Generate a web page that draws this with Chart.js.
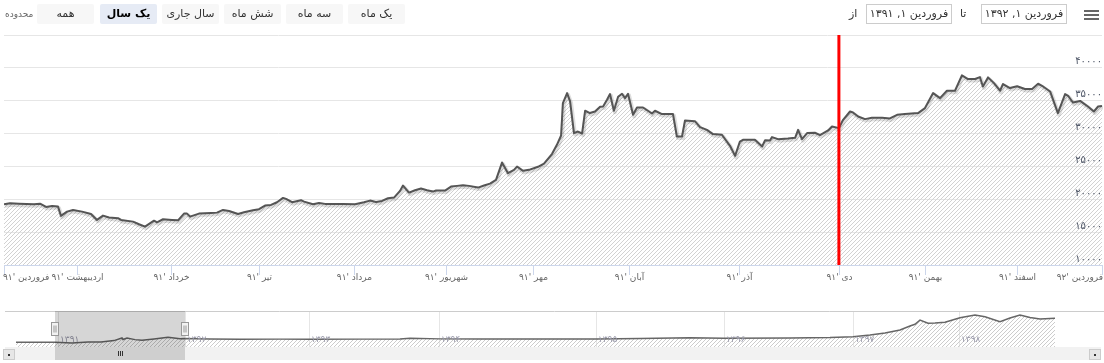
<!DOCTYPE html>
<html><head><meta charset="utf-8">
<script src="https://cdn.jsdelivr.net/npm/chart.js@4.4.1/dist/chart.umd.min.js"></script>
<style>
body{margin:0;width:1104px;height:363px;overflow:hidden;background:#fff;font-family:"DejaVu Sans",sans-serif;position:relative}
canvas{position:absolute;left:0}
#main{top:0}
#nav{top:305px}
.t{position:absolute;white-space:nowrap;z-index:2}
.btn{position:absolute;top:4px;height:20px;width:57px;background:#f7f7f7;border-radius:2px;font-size:11px;color:#333;text-align:center;line-height:20px;z-index:2}
.sel{background:#e6ebf5;font-weight:bold;color:#000}
.box{position:absolute;top:4px;height:18px;width:84px;border:1px solid #ccc;background:#fff;font-size:11px;color:#333;text-align:center;line-height:18px;z-index:2}
.bar{position:absolute;left:1084px;width:15px;height:2px;background:#666;z-index:2}
</style></head>
<body>
<canvas id="main" width="1104" height="300"></canvas>
<canvas id="nav" width="1104" height="58"></canvas>
<div class="t" style="left:5px;top:9px;font-size:9px;color:#666">محدوده</div>
<div class="btn" style="left:37px">همه</div>
<div class="btn sel" style="left:100px">یک سال</div>
<div class="btn" style="left:162px">سال جاری</div>
<div class="btn" style="left:224px">شش ماه</div>
<div class="btn" style="left:286px">سه ماه</div>
<div class="btn" style="left:348px">یک ماه</div>
<div class="t" style="left:849px;top:7px;font-size:11px;color:#333">از</div>
<div class="box" style="left:866px">فروردین ۱, ۱۳۹۱</div>
<div class="t" style="left:960px;top:7px;font-size:11px;color:#333">تا</div>
<div class="box" style="left:981px">فروردین ۱, ۱۳۹۲</div>
<div class="bar" style="top:10px"></div>
<div class="bar" style="top:14px"></div>
<div class="bar" style="top:18px"></div>
<script>
// ---- main series (trading-day index, price) ----
const dayIndex = [
 0,2,5,10,12,14,16,18,19,21,
 23,26,29,31,33,35,38,39,43,45,
 47,50,51,53,56,58,60,61,62,65,
 69,71,73,75,78,80,83,85,87,89,
 91,93,94,96,99,100,103,105,107,110,
 113,117,120,122,124,126,128,130,132,133,
 135,137,139,141,143,144,147,149,151,153,
 155,158,160,162,164,166,168,170,171,173,
 175,178,180,182.7,184.3,185.7,186.3,187.7,188.7,190,
 191.3,192.7,193.7,195.3,197,198.7,199.7,201,202,203.3,
 204.7,206,207,208,209.7,211,213,216,217,219.3,
 223,224.3,226,227,230.3,232,234.3,236.3,239.3,242,
 243.7,245.3,246.3,250.3,252.7,253.7,255.3,256,258,261.3,
 263.7,264.7,266,267.7,270.3,272,274.7,276,278.3,279.7,
 282,283,284.7,287,289.3,292.7,295.3,297.7,300.3,304.7,
 307,309.7,312,314.3,317,319.3,321.3,323.7,325.3,326.3,
 328,330,332,333,335.3,337.7,340.3,342.7,344.7,346,
 348.7,351.3,353.7,354.7,356.3,358.7,361.3,363.3,364.7,366];
const price = [
 19250,19400,19330,19250,19330,18840,18990,18890,17470,18120,
 18380,18120,17770,16860,17520,17220,17120,16860,16600,16200,
 15840,16750,16500,16960,16860,16800,17820,17820,17360,17820,
 17920,17970,18380,18220,17770,18020,18330,18490,19040,19140,
 19550,20210,20060,19550,19860,19650,19250,19450,19300,19300,
 19300,19250,19550,19800,19600,19750,20160,20260,21280,22090,
 21020,21380,21630,21380,21170,21330,21330,21930,22040,22140,
 22040,21780,22090,22390,22950,25590,23970,24480,24980,24330,
 24480,24940,25440,26920,28290,29710,34640,36160,34890,30070,
 30310,30010,33470,33120,33360,34080,34130,35150,36010,33470,
 35600,36060,35400,36060,32860,33970,33970,33060,33470,32960,
 32960,29550,29550,31990,31890,30990,30570,29920,29820,28140,
 26600,28790,29050,29050,28030,29000,28950,29460,29150,29250,
 29350,30570,29150,30070,30120,29770,30470,31080,30830,32100,
 33360,33200,32600,32200,32400,32400,32300,32860,32960,33120,
 33880,36160,35400,36520,36520,38850,38300,38300,38600,37170,
 38550,37680,36520,37540,36930,37200,36780,36780,37580,37270,
 36410,33120,36010,35750,34730,34970,34120,33360,34120,34200];
const monthTicks = [0,24.3,55.7,85,116.7,147.3,176.3,208.3,245,278.3,307,337.7,366];
const monthLabels = ["فروردین '۹۱","اردیبهشت '۹۱","خرداد '۹۱","تیر '۹۱","مرداد '۹۱","شهریور '۹۱","مهر '۹۱","آبان '۹۱","آذر '۹۱","دی '۹۱","بهمن '۹۱","اسفند '۹۱","فروردین '۹۲"];
const yTicks = [10000,15000,20000,25000,30000,35000,40000];
const yTickLabels = ["۱۰۰۰۰","۱۵۰۰۰","۲۰۰۰۰","۲۵۰۰۰","۳۰۰۰۰","۳۵۰۰۰","۴۰۰۰۰"];
const markerIndex = 278.3; // دی '۹۱

// ---- navigator series ----
const navIndex = [22,60,100,134,166,192,218,234,236,244,260,274,298,326,350,360,410,470,550,610,710,790,810,870,950,1090,1182,1270,1370,1438,1570,1650,1696,1730,1760,1790,1810,1820,1830,1846,1860,1880,1910,1940,1960,1990,2010,2030,2050,2070,2100];
const navValue = [19000,19300,19250,15840,20200,20300,25600,36000,30000,36000,29500,26600,32100,38800,33100,34200,32000,30800,31500,30800,31500,32000,34800,32500,32000,32000,32000,34000,37200,34800,36000,38000,41200,48000,56000,68000,84000,90800,108000,94800,96000,98800,117200,128000,121200,101200,116000,128000,118000,112000,114800];
const navYearTicks = [106,360,608,868,1182,1438,1696,1908];
const navYearLabels = ["۱۳۹۱","۱۳۹۲","۱۳۹۳","۱۳۹۴","۱۳۹۵","۱۳۹۶","۱۳۹۷","۱۳۹۸"];
const navSelection = [100,360];

function hatch(ctx,col){
  const c=document.createElement('canvas');c.width=4;c.height=4;
  const g=c.getContext('2d');g.strokeStyle=col;g.lineWidth=1;
  g.beginPath();g.moveTo(0,4);g.lineTo(4,0);g.moveTo(-1,1);g.lineTo(1,-1);g.moveTo(3,5);g.lineTo(5,3);g.stroke();
  return ctx.createPattern(c,'repeat');
}
const FONT='"DejaVu Sans", sans-serif';

const mainCtx=document.getElementById('main').getContext('2d');
const pts=dayIndex.map((d,i)=>({x:d,y:price[i]}));
new Chart(mainCtx,{
  type:'line',
  data:{datasets:[
    {order:3,data:pts,fill:'start',backgroundColor:hatch(mainCtx,'#d2d2d2'),borderWidth:0,borderColor:'rgba(0,0,0,0)',pointRadius:0,tension:0},
    {order:2,data:pts,fill:false,borderColor:'rgba(0,0,0,0.13)',borderWidth:4,pointRadius:0,tension:0,borderJoinStyle:'round'},
    {order:1,data:pts,fill:false,borderColor:'#555',borderWidth:2,pointRadius:0,tension:0,borderJoinStyle:'round'}
  ]},
  options:{
    responsive:false,animation:false,events:[],
    layout:{padding:{left:4,right:2,top:35,bottom:35}},
    plugins:{legend:{display:false},tooltip:{enabled:false}},
    scales:{
      x:{type:'linear',min:0,max:366,display:false},
      y:{type:'linear',min:10000,max:45000,position:'right',
         ticks:{display:false,stepSize:5000},
         grid:{color:'#e6e6e6',drawTicks:false},border:{display:false}}
    }
  },
  plugins:[{
    id:'deco',
    beforeDatasetDraw(chart,args){if(args.index===1){const c=chart.ctx;c.save();c.translate(1,1.5);}},
    afterDatasetDraw(chart,args){if(args.index===1)chart.ctx.restore();},
    afterDraw(chart){
      const ctx=chart.ctx,xs=chart.scales.x,ys=chart.scales.y,ca=chart.chartArea;
      ctx.save();
      // marker line
      const mx=xs.getPixelForValue(markerIndex);
      ctx.strokeStyle='#ff0000';ctx.lineWidth=3;
      ctx.beginPath();ctx.moveTo(mx,ca.top);ctx.lineTo(mx,ca.bottom);ctx.stroke();
      // x axis
      ctx.strokeStyle='#ccd6eb';ctx.lineWidth=1;
      ctx.beginPath();ctx.moveTo(ca.left,ca.bottom+0.5);ctx.lineTo(ca.right,ca.bottom+0.5);ctx.stroke();
      ctx.font='9px '+FONT;ctx.fillStyle='#666';ctx.textBaseline='middle';
      monthTicks.forEach((v,i)=>{
        const x=Math.round(xs.getPixelForValue(v))+0.5;
        ctx.beginPath();ctx.moveTo(x,ca.bottom);ctx.lineTo(x,ca.bottom+10);ctx.stroke();
        let tx=x;
        if(i===0){ctx.textAlign='left';tx=ca.left-1;}
        else if(i===monthTicks.length-1){ctx.textAlign='right';tx=ca.right+1;}
        else ctx.textAlign='center';
        ctx.fillText(monthLabels[i],tx,ca.bottom+13);
      });
      // y labels
      ctx.font='10px '+FONT;ctx.fillStyle='#4d5566';ctx.textAlign='right';ctx.textBaseline='bottom';
      yTicks.forEach((v,i)=>{ctx.fillText(yTickLabels[i],ca.right,ys.getPixelForValue(v)-1);});
      ctx.restore();
    }
  }]
});

const navCtx=document.getElementById('nav').getContext('2d');
new Chart(navCtx,{
  type:'line',
  data:{datasets:[{data:navIndex.map((d,i)=>({x:d,y:navValue[i]})),fill:'start',backgroundColor:hatch(navCtx,'#cccccc'),borderColor:'#666',borderWidth:1.5,pointRadius:0,tension:0}]},
  options:{
    responsive:false,animation:false,events:[],
    layout:{padding:{left:5,right:14,top:6,bottom:16}},
    plugins:{legend:{display:false},tooltip:{enabled:false}},
    scales:{x:{type:'linear',min:0,max:2170,display:false},y:{type:'linear',min:0,max:144000,display:false}}
  },
  plugins:[{
    id:'navdeco',
    beforeDatasetsDraw(chart){
      const ctx=chart.ctx,xs=chart.scales.x,ca=chart.chartArea;
      ctx.save();ctx.strokeStyle='#e6e6e6';ctx.lineWidth=1;
      navYearTicks.forEach(v=>{const x=Math.round(xs.getPixelForValue(v))+0.5;ctx.beginPath();ctx.moveTo(x,ca.top);ctx.lineTo(x,ca.bottom);ctx.stroke();});
      ctx.restore();
    },
    afterDatasetsDraw(chart){
      const ctx=chart.ctx,xs=chart.scales.x,ca=chart.chartArea;
      ctx.save();
      ctx.font='9px '+FONT;ctx.fillStyle='#99a';ctx.textAlign='left';ctx.textBaseline='middle';
      navYearTicks.forEach((v,i)=>ctx.fillText(navYearLabels[i],xs.getPixelForValue(v)+2,ca.bottom-7));
      // outline
      ctx.strokeStyle='#ccc';ctx.lineWidth=1;
      ctx.beginPath();ctx.moveTo(ca.left,ca.top+0.5);ctx.lineTo(chart.width,ca.top+0.5);ctx.stroke();
      const a=xs.getPixelForValue(navSelection[0]),b=xs.getPixelForValue(navSelection[1]);
      ctx.fillStyle='rgba(0,0,0,0.16)';ctx.fillRect(a,ca.top,b-a,ca.bottom-ca.top);
      // scrollbar
      const sy=ca.bottom,sh=13;
      ctx.fillStyle='#f2f2f2';ctx.fillRect(ca.left,sy,chart.width-ca.left-3,sh);
      ctx.fillStyle='#cfcfcf';ctx.fillRect(a,sy,b-a,sh);
      ctx.strokeStyle='#333';
      for(let k=-1;k<=1;k++){const gx=Math.round((a+b)/2)+k*2+0.5;ctx.beginPath();ctx.moveTo(gx,sy+4);ctx.lineTo(gx,sy+9);ctx.stroke();}
      // arrow buttons
      ctx.fillStyle='#e6e6e6';ctx.strokeStyle='#ccc';
      [[3,sy+2],[chart.width-15,sy+2]].forEach(([bx,by])=>{ctx.fillRect(bx,by,12,11);ctx.strokeRect(bx+0.5,by+0.5,11,10);});
      ctx.fillStyle='#333';ctx.fillRect(8,sy+7,2,2);ctx.fillRect(chart.width-10,sy+7,2,2);
      // handles
      [a,b].forEach(hx=>{
        const x=Math.round(hx)-3.5,y=ca.top+11.5;
        ctx.fillStyle='#f2f2f2';ctx.strokeStyle='#999';
        ctx.fillRect(x,y,7,13);ctx.strokeRect(x,y,7,13);
        ctx.beginPath();ctx.moveTo(x+2.5,y+3);ctx.lineTo(x+2.5,y+10);ctx.moveTo(x+4.5,y+3);ctx.lineTo(x+4.5,y+10);ctx.stroke();
      });
      ctx.restore();
    }
  }]
});
</script>
</body></html>
